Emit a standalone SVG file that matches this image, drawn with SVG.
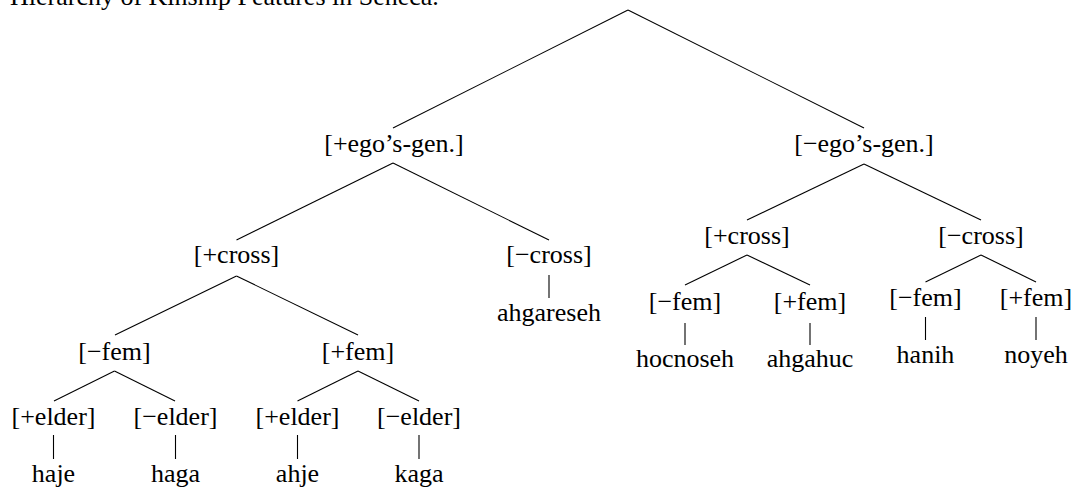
<svg xmlns="http://www.w3.org/2000/svg" width="1076" height="487" viewBox="0 0 1076 487">
<style>
text{font-family:'Liberation Serif','DejaVu Serif','Noto Serif',FreeSerif,Times,Georgia,serif;font-size:26px;fill:#000;text-anchor:middle}
.title{text-anchor:start}
.edges line{stroke:#000;stroke-width:1.1;fill:none}
</style>
<rect width="1076" height="487" fill="#fff"/>
<text class="title" x="10" y="4.5">Hierarchy of Kinship Features in Seneca.</text>
<g class="edges" id="connectors">
<line x1="628" y1="10" x2="393" y2="128"/>
<line x1="628" y1="10" x2="864" y2="128"/>
<line x1="393" y1="163" x2="236.5" y2="240"/>
<line x1="393" y1="163" x2="549" y2="240"/>
<line x1="236.5" y1="276" x2="115" y2="335"/>
<line x1="236.5" y1="276" x2="358" y2="335"/>
<line x1="549" y1="275" x2="549" y2="298"/>
<line x1="114.5" y1="371" x2="54" y2="401"/>
<line x1="114.5" y1="371" x2="175" y2="401"/>
<line x1="358" y1="371" x2="297.5" y2="401"/>
<line x1="358" y1="371" x2="419" y2="401"/>
<line x1="53.5" y1="435" x2="53.5" y2="459"/>
<line x1="175.5" y1="435" x2="175.5" y2="459"/>
<line x1="297.5" y1="435" x2="297.5" y2="459"/>
<line x1="419" y1="435" x2="419" y2="459"/>
<line x1="864" y1="164" x2="747" y2="220"/>
<line x1="864" y1="164" x2="981" y2="220"/>
<line x1="747" y1="255" x2="685" y2="285"/>
<line x1="747" y1="255" x2="810" y2="285"/>
<line x1="685" y1="323" x2="685" y2="345"/>
<line x1="810" y1="323" x2="810" y2="345"/>
<line x1="981" y1="255" x2="925.5" y2="282"/>
<line x1="981" y1="255" x2="1036" y2="282"/>
<line x1="925.5" y1="317" x2="925.5" y2="340"/>
<line x1="1036" y1="317" x2="1036" y2="340"/>
</g>
<g id="n-plus-ego"><text x="394" y="152">[+ego’s-gen.]</text></g>
<g id="n-minus-ego"><text x="864" y="152">[−ego’s-gen.]</text></g>
<g id="n-l-plus-cross"><text x="236.5" y="263">[+cross]</text></g>
<g id="n-l-minus-cross"><text x="549" y="263">[−cross]</text></g>
<g id="n-ahgareseh"><text x="549" y="321">ahgareseh</text></g>
<g id="n-l-minus-fem"><text x="114.5" y="360">[−fem]</text></g>
<g id="n-l-plus-fem"><text x="358" y="360">[+fem]</text></g>
<g id="n-plus-elder-1"><text x="53.5" y="425">[+elder]</text></g>
<g id="n-minus-elder-1"><text x="175.5" y="425">[−elder]</text></g>
<g id="n-plus-elder-2"><text x="297.5" y="425">[+elder]</text></g>
<g id="n-minus-elder-2"><text x="419" y="425">[−elder]</text></g>
<g id="n-haje"><text x="53.5" y="481.5">haje</text></g>
<g id="n-haga"><text x="175.5" y="481.5">haga</text></g>
<g id="n-ahje"><text x="297.5" y="481.5">ahje</text></g>
<g id="n-kaga"><text x="419" y="481.5">kaga</text></g>
<g id="n-r-plus-cross"><text x="747" y="243.5">[+cross]</text></g>
<g id="n-r-minus-cross"><text x="981" y="243.5">[−cross]</text></g>
<g id="n-r-minus-fem-1"><text x="685" y="310">[−fem]</text></g>
<g id="n-r-plus-fem-1"><text x="810" y="310">[+fem]</text></g>
<g id="n-hocnoseh"><text x="685" y="367">hocnoseh</text></g>
<g id="n-ahgahuc"><text x="810" y="367">ahgahuc</text></g>
<g id="n-r-minus-fem-2"><text x="925.5" y="306">[−fem]</text></g>
<g id="n-r-plus-fem-2"><text x="1036" y="306">[+fem]</text></g>
<g id="n-hanih"><text x="925.5" y="363">hanih</text></g>
<g id="n-noyeh"><text x="1036" y="363">noyeh</text></g>
</svg>
